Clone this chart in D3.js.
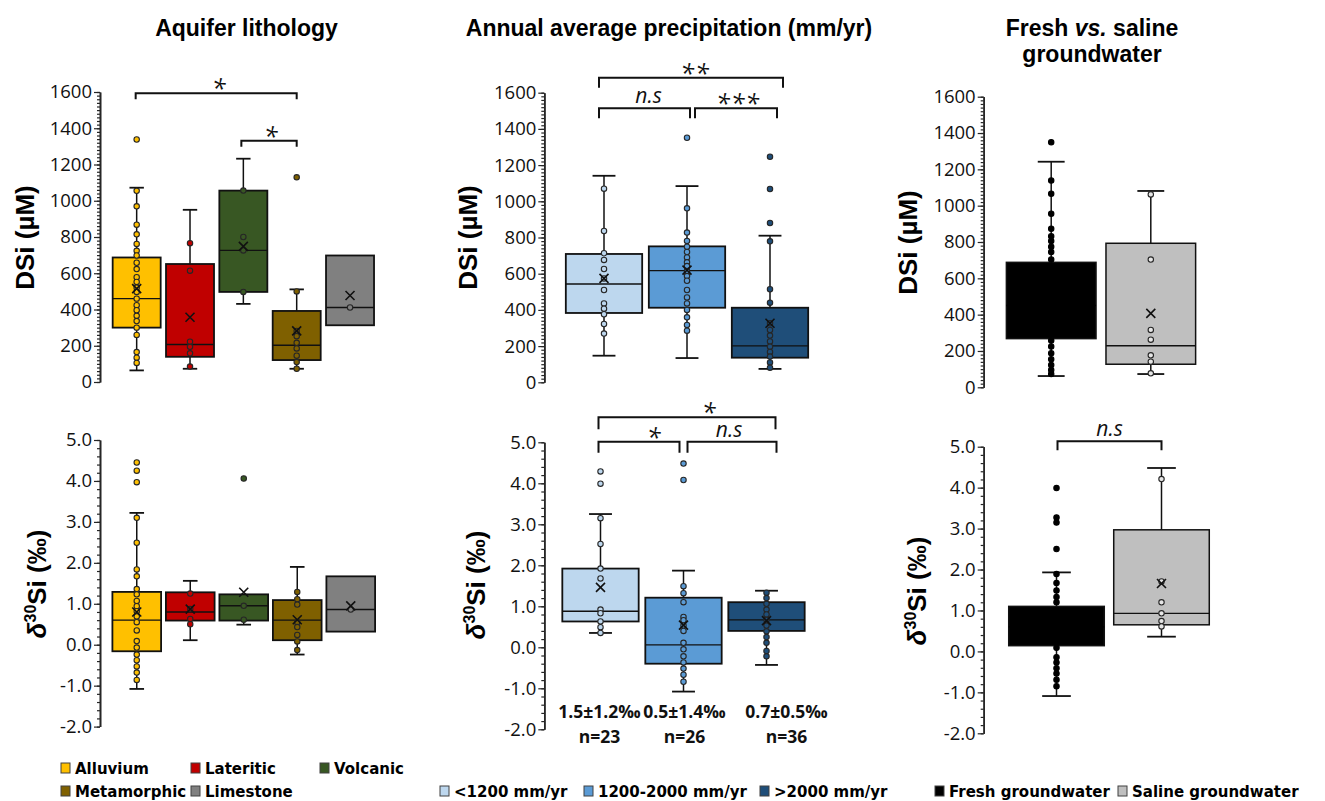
<!DOCTYPE html>
<html><head><meta charset="utf-8">
<script src="https://cdn.jsdelivr.net/npm/d3@7"></script>
<style>body{margin:0;background:#fff}svg{display:block}</style>
</head><body><svg id="c" width="1325" height="801"></svg>
<script>
// ---------------- DATA ----------------
const lithCats = ["Alluvium","Lateritic","Volcanic","Metamorphic","Limestone"];
const precipCats = ["<1200 mm/yr","1200-2000 mm/yr",">2000 mm/yr"];
const salCats = ["Fresh groundwater","Saline groundwater"];

const dsiTicks = [0,200,400,600,800,1000,1200,1400,1600];
const isoTicks = [-2,-1,0,1,2,3,4,5];

// box stats: [lowWhisker, Q1, median, Q3, highWhisker, mean]
const lithDsiStats = [[64,300,460,687,1072,515],[73,139,207,651,950,357],[431,497,726,1056,1232,748],[73,121,203,392,511,282],[313,313,411,698,698,477]];
const lithIsoStats = [[-1.08,-0.16,0.60,1.29,3.22,0.80],[0.11,0.59,0.80,1.28,1.56,0.87],[0.49,0.59,0.95,1.23,1.23,1.28],[-0.24,0.11,0.60,1.09,1.90,0.61],[0.32,0.32,0.86,1.67,1.67,0.95]];
const precipDsiStats = [[147,383,543,709,1141,574],[134,412,617,751,1084,620],[74,136,201,412,810,326]];
const precipIsoStats = [[0.35,0.63,0.88,1.92,3.25,1.46],[-1.08,-0.40,0.06,1.21,1.87,0.54],[-0.43,0.40,0.67,1.10,1.38,0.65]];
const salDsiStats = [[62,268,450,688,1242,520],[73,127,229,793,1081,407]];
const salIsoStats = [[-1.09,0.14,0.60,1.10,1.93,0.75],[0.36,0.65,0.93,2.97,4.48,1.66]];

// individual samples
const lithDsiPoints = [
  [1338,1055,969,868,815,762,724,698,658,623,578,552,520,497,460,424,396,365,336,300,260,165,134,105],
  [766,614,222,194,158,85],
  [1056,800,726,497],
  [1129,500,282,253,216,185,145,110,73],
  [411]
];
const lithIsoPoints = [
  [4.45,4.25,3.97,3.10,2.49,1.84,1.67,1.36,1.23,1.07,0.94,0.82,0.69,0.55,0.35,0.09,-0.07,-0.24,-0.38,-0.53,-0.68,-0.86],
  [1.25,0.87,0.63,0.50],
  [4.06,0.95,0.61],
  [1.29,1.11,0.98,0.55,0.43,0.24,0.08,-0.13],
  [0.86]
];
const precipDsiPoints = [
  [1070,836,713,676,626,574,510,436,407,376,322,269],
  [1351,961,827,781,749,720,690,663,642,615,587,561,510,469,436,400,359,317,285],
  [1246,1068,880,779,514,440,326,289,258,226,197,168,142,110,81]
];
const precipIsoPoints = [
  [4.29,3.99,3.15,2.52,1.92,1.68,0.92,0.83,0.63,0.49,0.35],
  [4.48,4.08,1.49,1.32,1.10,0.74,0.66,0.53,0.40,0.11,-0.05,-0.22,-0.37,-0.52,-0.67,-0.84],
  [1.33,1.20,1.06,0.92,0.80,0.67,0.53,0.39,0.25,0.11,-0.09,-0.22]
];
const salDsiPoints = [
  [1349,1138,1066,956,873,831,805,774,745,703,257,224,187,154,123,95,73],
  [1062,703,316,262,176,141,77]
];
const salIsoPoints = [
  [3.99,3.27,3.15,2.50,1.89,1.67,1.49,1.33,1.20,0.09,-0.14,-0.27,-0.41,-0.54,-0.69,-0.85],
  [4.21,1.71,1.20,0.93,0.74,0.61]
];

const precipSummary = ["1.5\u00b11.2\u2030","0.5\u00b11.4\u2030","0.7\u00b10.5\u2030"];
const precipN = ["n=23","n=26","n=36"];

// significance brackets: [fromIndex, toIndex, label]
const lithDsiSig = [[0,3,"*"],[2,3,"*"]];
const precipDsiSig = [[0,2,"**"],[0,1,"n.s"],[1,2,"***"]];
const precipIsoSig = [[0,2,"*"],[0,1,"*"],[1,2,"n.s"]];
const salIsoSig = [[0,1,"n.s"]];

// ---------------- STYLE ----------------
const lithColors = ["#FFC000","#C00000","#385723","#7F6000","#808080"];
const precipColors = ["#BDD7EE","#5B9BD5","#1F4E79"];
const salColors = ["#000000","#BFBFBF"];
const salPtFill = ["#000000","#E6E6E6"];

const TICK_FONT = "'Open Sans','Noto Sans',sans-serif";
const ARIAL = "'Liberation Sans',Arial,sans-serif";
const LEG_FONT = "'DejaVu Sans',Verdana,sans-serif";
const INK = "#111";

const svg = d3.select("#c");

function drawPanel(p) {
  const g = svg.append("g");
  const x = d3.scaleBand().domain(p.cats).range(p.xr).paddingInner(p.pi).paddingOuter(p.po);
  const y = d3.scaleLinear().domain(p.domain).range(p.yr);
  const nMinor = Math.round((p.domain[1]-p.domain[0])/p.minorStep);
  const minor = d3.range(nMinor+1).map(k => +(p.domain[0] + k*p.minorStep).toFixed(4));
  const ga = g.append("g").attr("transform", `translate(${p.ax},0)`)
    .call(d3.axisLeft(y).tickValues(minor).tickSize(3).tickSizeOuter(0).tickFormat(""));
  const gb = g.append("g").attr("transform", `translate(${p.ax},0)`)
    .call(d3.axisLeft(y).tickValues(p.ticks).tickSize(6).tickSizeOuter(0).tickPadding(2).tickFormat(p.fmt));
  [ga,gb].forEach(a => {
    a.select(".domain").attr("stroke", "#262626").attr("stroke-width", 1.6);
    a.selectAll(".tick line").attr("stroke", "#262626").attr("stroke-width", 1.2);
  });
  gb.selectAll(".tick text").attr("font-family", TICK_FONT).attr("font-size", 18.5).attr("fill", INK);

  const bw = x.bandwidth();
  p.cats.forEach((c, i) => {
    const [lo, q1, med, q3, hi, mean] = p.stats[i];
    const cx = x(c) + bw/2;
    const cap = bw * 0.3;
    const lw = p.lw || 1.8;
    if (hi > q3) {
      g.append("line").attr("x1", cx).attr("x2", cx).attr("y1", y(hi)).attr("y2", y(q3)).attr("stroke", INK).attr("stroke-width", 1.5);
      g.append("line").attr("x1", cx-cap/2).attr("x2", cx+cap/2).attr("y1", y(hi)).attr("y2", y(hi)).attr("stroke", INK).attr("stroke-width", 1.8);
    }
    if (lo < q1) {
      g.append("line").attr("x1", cx).attr("x2", cx).attr("y1", y(lo)).attr("y2", y(q1)).attr("stroke", INK).attr("stroke-width", 1.5);
      g.append("line").attr("x1", cx-cap/2).attr("x2", cx+cap/2).attr("y1", y(lo)).attr("y2", y(lo)).attr("stroke", INK).attr("stroke-width", 1.8);
    }
    const dark = p.colors[i] === "#000000";
    const inner = dark ? "#000" : INK;
    g.append("rect").attr("x", x(c)).attr("width", bw).attr("y", y(q3)).attr("height", y(q1)-y(q3))
      .attr("fill", p.colors[i]).attr("stroke", INK).attr("stroke-width", lw);
    g.append("line").attr("x1", x(c)).attr("x2", x(c)+bw).attr("y1", y(med)).attr("y2", y(med)).attr("stroke", inner).attr("stroke-width", 1.4);
    g.selectAll(null).data(p.points[i]).enter().append("circle")
      .attr("cx", cx).attr("cy", d => y(d)).attr("r", 2.7)
      .attr("fill", (p.ptFill || p.colors)[i]).attr("stroke", dark ? "#000" : "#262626").attr("stroke-width", 1.1);
    const s = 4.5, my = y(mean);
    g.append("path").attr("d", `M${cx-s},${my-s}L${cx+s},${my+s}M${cx-s},${my+s}L${cx+s},${my-s}`)
      .attr("stroke", inner).attr("stroke-width", 1.6).attr("fill", "none");
  });

  (p.sig || []).forEach((b, k) => {
    const [a, bb, label] = b;
    const geo = p.sigGeo[k];
    const x1 = x(p.cats[a]) + bw/2 + geo.dx1, x2 = x(p.cats[bb]) + bw/2 + geo.dx2;
    const yt = geo.y, yb = geo.y + geo.drop;
    g.append("path").attr("d", `M${x1},${yb}L${x1},${yt}L${x2},${yt}L${x2},${yb}`)
      .attr("fill", "none").attr("stroke", INK).attr("stroke-width", 2);
    const isStar = label.indexOf("*") >= 0;
    g.append("text").attr("x", (x1+x2)/2 + (geo.tdx||0)).attr("y", isStar ? yt + 5 : yt - 5)
      .attr("text-anchor", "middle").attr("font-family", TICK_FONT).attr("font-style", "italic")
      .attr("font-size", isStar ? 25 : 21).attr("letter-spacing", isStar ? 1 : 0).attr("fill", INK).text(label);
  });
  return {x, y, bw};
}

const dsiFmt = d => String(d);
const isoFmt = d => d.toFixed(1);

// Left column
drawPanel({cats: lithCats, stats: lithDsiStats, points: lithDsiPoints, colors: lithColors,
  xr: [110, 376.7], pi: 0.1, po: 0.05, ax: 100, domain: [0,1600], yr: [382, 92],
  ticks: dsiTicks, minorStep: 20, fmt: dsiFmt,
  sig: lithDsiSig, sigGeo: [{y: 93.3, drop: 6, dx1: -1, dx2: 0, tdx: 3}, {y: 140.7, drop: 6, dx1: -2, dx2: 0, tdx: 2}]});
drawPanel({cats: lithCats, stats: lithIsoStats, points: lithIsoPoints, colors: lithColors,
  xr: [110, 377.5], pi: 0.09, po: 0.045, ax: 100, domain: [-2,5], yr: [726.6, 440],
  ticks: isoTicks, minorStep: 0.2, fmt: isoFmt});

// Middle column
drawPanel({cats: precipCats, stats: precipDsiStats, points: precipDsiPoints, colors: precipColors,
  xr: [562.5, 811.5], pi: 0.08, po: 0.04, ax: 544.3, domain: [0,1600], yr: [382.3, 92.7],
  ticks: dsiTicks, minorStep: 20, fmt: dsiFmt,
  sig: precipDsiSig, sigGeo: [{y: 77.7, drop: 10, dx1: -5, dx2: 13, tdx: 4}, {y: 108.3, drop: 10, dx1: -5, dx2: 3, tdx: 4}, {y: 108.3, drop: 10, dx1: 8, dx2: 7, tdx: 2}]});
const midB = drawPanel({cats: precipCats, stats: precipIsoStats, points: precipIsoPoints, colors: precipColors,
  xr: [559, 808], pi: 0.08, po: 0.04, ax: 544.3, domain: [-2,5], yr: [729.3, 442.3],
  ticks: isoTicks, minorStep: 0.2, fmt: isoFmt,
  sig: precipIsoSig, sigGeo: [{y: 417.3, drop: 12, dx1: -2, dx2: 9, tdx: 22}, {y: 441.7, drop: 11, dx1: -2, dx2: -4, tdx: 15}, {y: 441.7, drop: 11, dx1: 4, dx2: 10, tdx: -3}]});

const statDx = [-1, 1, 20];
precipCats.forEach((c, i) => {
  const cx = midB.x(c) + midB.bw/2 + statDx[i];
  svg.append("text").attr("x", cx).attr("y", 718).attr("text-anchor", "middle")
    .attr("font-family", TICK_FONT).attr("font-weight", 700).attr("font-size", 17.5).attr("fill", INK).text(precipSummary[i]);
  svg.append("text").attr("x", cx).attr("y", 743).attr("text-anchor", "middle")
    .attr("font-family", TICK_FONT).attr("font-weight", 700).attr("font-size", 17.5).attr("fill", INK).text(precipN[i]);
});

// Right column
drawPanel({cats: salCats, stats: salDsiStats, points: salDsiPoints, colors: salColors, ptFill: salPtFill,
  xr: [1001.4, 1200.6], pi: 0.1, po: 0.05, ax: 983.7, domain: [0,1600], yr: [387.3, 96.7],
  ticks: dsiTicks, minorStep: 20, fmt: dsiFmt, lw: 1.5});
drawPanel({cats: salCats, stats: salIsoStats, points: salIsoPoints, colors: salColors, ptFill: salPtFill,
  xr: [1004, 1214], pi: 0.09, po: 0.045, ax: 983.7, domain: [-2,5], yr: [733.3, 446.7],
  ticks: isoTicks, minorStep: 0.2, fmt: isoFmt, lw: 1.5,
  sig: salIsoSig, sigGeo: [{y: 441.3, drop: 9, dx1: 1, dx2: 0, tdx: 0}]});

// Titles
function title(xc, yb, parts) {
  const t = svg.append("text").attr("x", xc).attr("y", yb).attr("text-anchor", "middle")
    .attr("font-family", ARIAL).attr("font-weight", 700).attr("font-size", 23).attr("fill", "#000");
  parts.forEach(p => t.append("tspan").attr("font-style", p[1] ? "italic" : "normal").text(p[0]));
}
title(246.5, 36, [["Aquifer lithology"]]);
title(669, 36, [["Annual average precipitation (mm/yr)"]]);
title(1092, 36, [["Fresh "], ["vs.", true], [" saline"]]);
title(1092, 62, [["groundwater"]]);

// Y axis titles
function ytitle(xb, yc, iso) {
  const t = svg.append("text").attr("transform", `translate(${xb},${yc}) rotate(-90)`).attr("text-anchor", "middle")
    .attr("font-family", ARIAL).attr("font-weight", 700).attr("font-size", 26).attr("fill", "#000");
  if (iso) {
    t.append("tspan").attr("font-style", "italic").text("\u03b4");
    t.append("tspan").attr("font-size", 16).attr("dy", -10).text("30");
    t.append("tspan").attr("dy", 10).text("Si (\u2030)");
  } else {
    t.text("DSi (\u00b5M)");
  }
}
ytitle(34, 237.5, false);
ytitle(477, 237.5, false);
ytitle(917, 242.5, false);
ytitle(46, 584, true);
ytitle(485, 585, true);
ytitle(926, 591, true);

// Legends
function legendItem(xs, ys, color, label) {
  svg.append("rect").attr("x", xs).attr("y", ys).attr("width", 9).attr("height", 10)
    .attr("fill", color).attr("stroke", "#404040").attr("stroke-width", 1);
  svg.append("text").attr("x", xs + 14).attr("y", ys + 10.5).attr("font-family", LEG_FONT).attr("font-weight", 700)
    .attr("font-size", 15).attr("fill", "#000").text(label);
}
const lithLegPos = [[61,763],[191,763],[320,763],[61,786],[191,786]];
lithCats.forEach((c,i) => legendItem(lithLegPos[i][0], lithLegPos[i][1], lithColors[i], c));
const precipLegPos = [[440,786],[584,786],[760,786]];
precipCats.forEach((c,i) => legendItem(precipLegPos[i][0], precipLegPos[i][1], precipColors[i], c));
const salLegPos = [[935,786],[1118,786]];
salCats.forEach((c,i) => legendItem(salLegPos[i][0], salLegPos[i][1], salColors[i], c));
</script>
</body></html>
